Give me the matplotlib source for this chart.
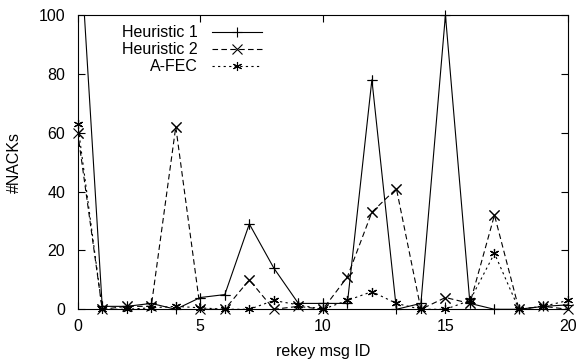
import numpy as np
import matplotlib
matplotlib.use("Agg")
import matplotlib.pyplot as plt

# values
msg_id = list(range(21))
heuristic1 = [137, 1, 1, 2, 0, 4, 5, 29, 14, 2, 2, 2, 78, 0, 2, 100, 2, 0, 0, 1, 1.5]
heuristic2 = [60, 0, 1, 1, 62, 0, 0, 10, 0, 1, 0, 11, 33, 41, 0, 4, 2, 32, 0, 1, 0]
afec = [63, 0, 0, 0.5, 1, 0.5, 0, 0, 3, 1.5, 0, 3, 6, 2, 0, 0, 3, 19, 0, 1, 3]

labels = ["Heuristic 1", "Heuristic 2", "A-FEC"]
markers = ["+", "x", (6, 2, 0)]
dashes = [(None, None), (5, 3), (2, 3)]

plt.rcParams['font.family'] = ['Liberation Sans', 'DejaVu Sans']
plt.rcParams['font.size'] = 11.5

fig = plt.figure(figsize=(5.77, 3.62), dpi=100)
ax = fig.add_axes([0.1347, 0.1456, 0.8497, 0.813])

ymax = 100
for vals, lab, mk, ds in zip([heuristic1, heuristic2, afec], labels, markers, dashes):
    line, = ax.plot(msg_id, vals, color='black', lw=0.8, marker=mk, ms=6.5,
                    mew=0.8, label=lab)
    if ds[0] is not None:
        line.set_dashes(ds)
    # gnuplot does not clip the points sitting on the border
    x = np.array(msg_id)
    y = np.array(vals, dtype=float)
    keep = y <= ymax
    ax.plot(x[keep], y[keep], ls='none', color='black', marker=mk, ms=6.5,
            mew=0.8, clip_on=False)

ax.set_xlim(0, 20)
ax.set_ylim(0, ymax)
ax.set_xticks([0, 5, 10, 15, 20])
ax.set_yticks([0, 20, 40, 60, 80, 100])
ax.tick_params(direction='in', top=True, right=True, length=5, width=0.8)
ax.tick_params(axis='x', pad=7)
ax.tick_params(axis='y', pad=9)
for s in ax.spines.values():
    s.set_linewidth(0.8)

ax.set_xlabel("rekey msg ID", labelpad=7)
ax.set_ylabel("#NACKs", labelpad=12)

leg = ax.legend(loc='upper right', bbox_to_anchor=(0.3753, 0.965), frameon=False,
                markerfirst=False, handlelength=3.1, handletextpad=0.9,
                labelspacing=0.12, borderaxespad=0, borderpad=0)
for t in leg.get_texts():
    t.set_ha('right')
leg._legend_box.align = "right"

fig.savefig("out.png", dpi=100)
